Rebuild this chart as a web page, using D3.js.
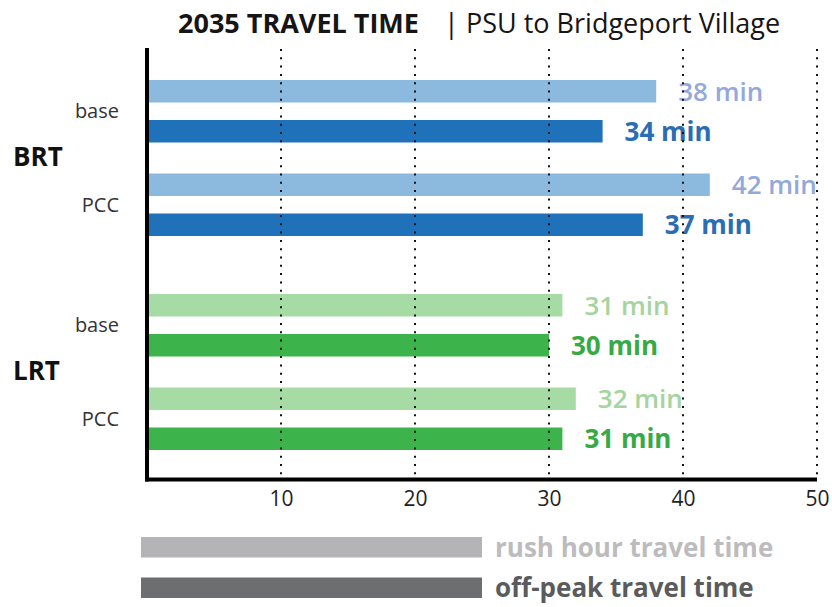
<!DOCTYPE html>
<html>
<head>
<meta charset="utf-8">
<script src="https://cdn.jsdelivr.net/npm/d3@7"></script>
<style>
  body { margin: 0; background: #fff; }
  svg { display: block; font-family: 'Open Sans', sans-serif; }
</style>
</head>
<body>
<svg id="chart" width="832" height="607"></svg>
<script>
// data
const groups = ['BRT', 'LRT'];
const scenarios = ['base', 'PCC'];
const types = ['rush', 'off'];
const rushHour = [38, 42, 31, 32];   // BRT base, BRT PCC, LRT base, LRT PCC
const offPeak = [34, 37, 30, 31];
const tickValues = [10, 20, 30, 40, 50];
const legendLabels = ['rush hour travel time', 'off-peak travel time'];

const barColors = {
  BRT: { rush: '#8cb9de', off: '#1f72b9' },
  LRT: { rush: '#a6dba6', off: '#3cb44b' }
};
const labelColors = {
  BRT: { rush: '#93a9db', off: '#2a6db4' },
  LRT: { rush: '#a5d49e', off: '#37a946' }
};

let rows = [];
groups.forEach(function(g, gi) {
  scenarios.forEach(function(s, si) {
    let i = gi * scenarios.length + si;
    rows.push({ group: g, scenario: s, type: 'rush', value: rushHour[i] });
    rows.push({ group: g, scenario: s, type: 'off', value: offPeak[i] });
  });
});

const svg = d3.select('#chart');

// scales
const x = d3.scaleLinear().domain([0, 50]).range([147, 817]);
const yGroup = d3.scaleBand().domain(groups).range([80, 508]);
const yScen = d3.scaleBand().domain(scenarios).range([0, 187]);
const yType = d3.scaleBand().domain(types).range([0, 62.5]).paddingInner(0.4375);

function rowY(d) { return yGroup(d.group) + yScen(d.scenario) + yType(d.type); }

// title
const title = svg.append('text')
  .attr('x', 178).attr('y', 33)
  .style('font-size', '27px')
  .style('fill', '#151515');
title.append('tspan').style('font-weight', 700).text('2035 TRAVEL TIME');
title.append('tspan').attr('x', 444).text('|');
title.append('tspan').attr('x', 466).text('PSU to Bridgeport Village');

// bars
svg.selectAll('.bar')
  .data(rows)
  .enter()
  .append('rect')
  .attr('class', 'bar')
  .attr('x', x(0))
  .attr('y', rowY)
  .attr('width', function(d) { return x(d.value) - x(0); })
  .attr('height', yType.bandwidth())
  .attr('fill', function(d) { return barColors[d.group][d.type]; });

// value labels
svg.selectAll('.val')
  .data(rows)
  .enter()
  .append('text')
  .attr('class', 'val')
  .attr('x', function(d) { return x(d.value) + 22; })
  .attr('y', function(d) { return rowY(d) + yType.bandwidth() / 2; })
  .attr('dy', '0.36em')
  .style('font-size', '26px')
  .style('font-weight', function(d) { return d.type === 'rush' ? 600 : 700; })
  .style('fill', function(d) { return labelColors[d.group][d.type]; })
  .text(function(d) { return d.value + ' min'; });

// dotted grid lines
svg.selectAll('.grid')
  .data(tickValues)
  .enter()
  .append('line')
  .attr('class', 'grid')
  .attr('x1', x).attr('x2', x)
  .attr('y1', 49).attr('y2', 477)
  .attr('stroke', '#111')
  .attr('stroke-width', 2)
  .attr('stroke-dasharray', '2,6.3');

// axes lines
svg.append('line')
  .attr('x1', x(0)).attr('x2', x(0))
  .attr('y1', 48).attr('y2', 481.5)
  .attr('stroke', '#000').attr('stroke-width', 4);
svg.append('line')
  .attr('x1', x(0) - 2).attr('x2', x(50))
  .attr('y1', 479.5).attr('y2', 479.5)
  .attr('stroke', '#000').attr('stroke-width', 4);

// x axis labels
const xAxis = d3.axisBottom(x).tickValues(tickValues).tickSize(0).tickPadding(0);
const gx = svg.append('g').attr('transform', 'translate(0,491)').call(xAxis);
gx.select('.domain').remove();
gx.selectAll('text')
  .attr('dy', '0.71em')
  .style('font-family', "'Open Sans', sans-serif")
  .style('font-size', '21px')
  .style('fill', '#222');

// scenario labels
let scenRows = [];
groups.forEach(function(g) { scenarios.forEach(function(s) { scenRows.push({ group: g, scenario: s }); }); });
svg.selectAll('.scen')
  .data(scenRows)
  .enter()
  .append('text')
  .attr('class', 'scen')
  .attr('x', 119)
  .attr('y', function(d) { return yGroup(d.group) + yScen(d.scenario) + 31; })
  .attr('dy', '0.35em')
  .attr('text-anchor', 'end')
  .style('font-size', '20px')
  .style('fill', '#333')
  .text(function(d) { return d.scenario; });

// group labels
svg.selectAll('.grp')
  .data(groups)
  .enter()
  .append('text')
  .attr('class', 'grp')
  .attr('x', 13)
  .attr('y', function(d) { return yGroup(d) + 77; })
  .attr('dy', '0.35em')
  .style('font-size', '26px')
  .style('font-weight', 700)
  .style('fill', '#111')
  .text(function(d) { return d; });

// legend
const legend = svg.selectAll('.legend')
  .data(legendLabels)
  .enter()
  .append('g')
  .attr('class', 'legend')
  .attr('transform', function(d, i) { return 'translate(141,' + (537 + i * 40.5) + ')'; });
legend.append('rect')
  .attr('width', 341).attr('height', 20.5)
  .attr('fill', function(d, i) { return i === 0 ? '#b4b4b6' : '#6d6e70'; });
legend.append('text')
  .attr('x', 354).attr('y', 10.5).attr('dy', '0.36em')
  .style('font-size', '26px')
  .style('font-weight', 700)
  .style('fill', function(d, i) { return i === 0 ? '#bcbcbe' : '#5a5b5d'; })
  .text(function(d) { return d; });
</script>
</body>
</html>
